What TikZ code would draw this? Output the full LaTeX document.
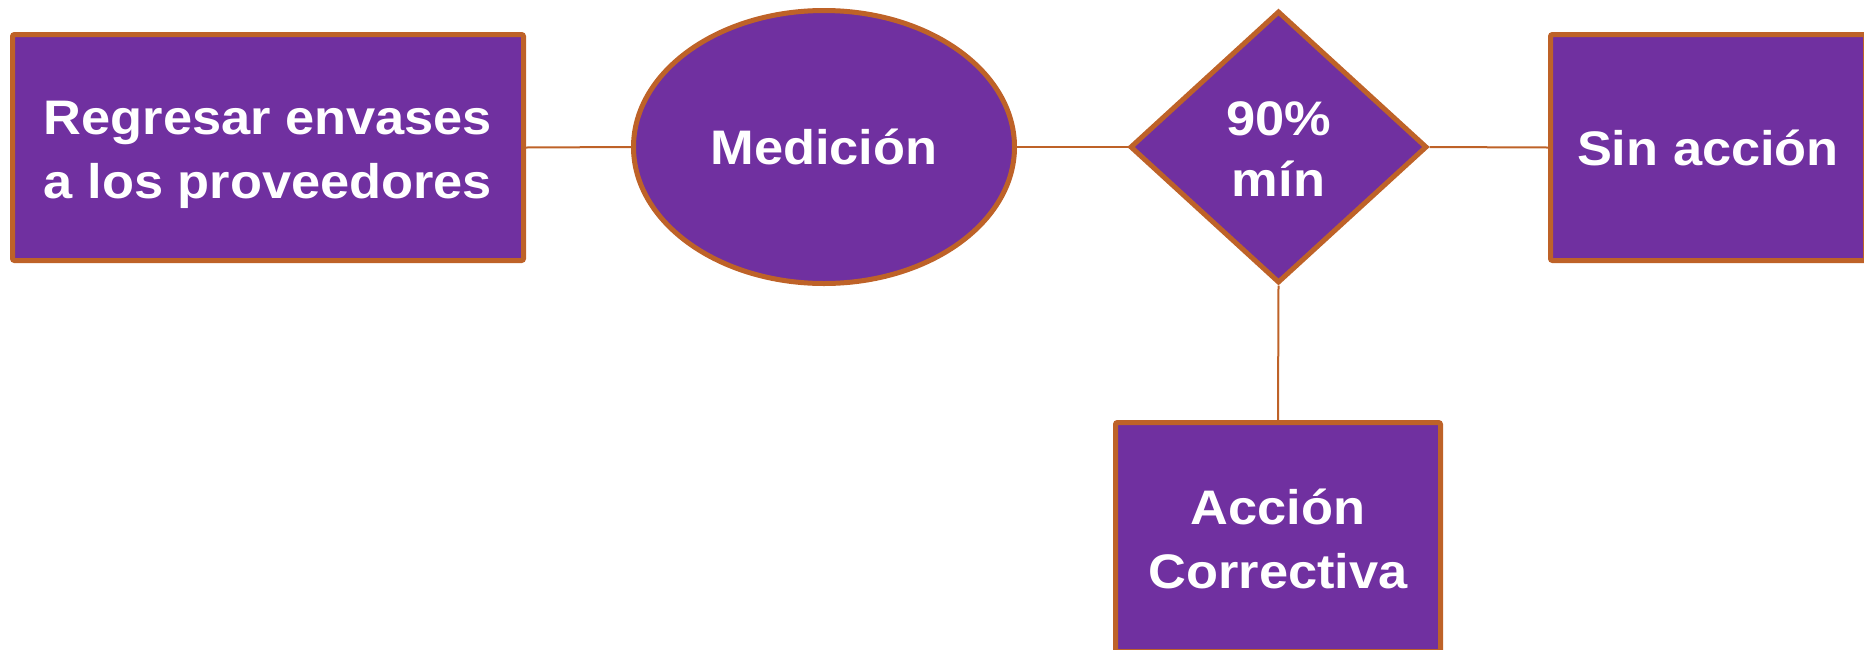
\documentclass[tikz,border=0pt]{standalone}
\usepackage{fontspec}
\setmainfont{Liberation Sans}[FakeStretch=1.08]
\usetikzlibrary{shapes.geometric}
\definecolor{boxfill}{RGB}{112,48,160}
\definecolor{boxline}{RGB}{190,98,40}
\tikzset{
  shapebase/.style={fill=boxfill, draw=boxline, line width=5pt, text=white,
    font=\fontsize{48.5}{64}\selectfont\bfseries, align=center, inner sep=0pt,
    text height=35pt, text depth=0pt},
  twolines/.style={text height=102pt, text depth=0pt},
  rectbox/.style={shapebase, rectangle, rounded corners=2pt},
  ovalbox/.style={shapebase, ellipse},
  decbox/.style={shapebase, diamond},
  link/.style={draw=boxline, line width=2pt}
}
\begin{document}
\begin{tikzpicture}[x=1pt,y=1pt]
\useasboundingbox (0,0) rectangle (1864,-649);
\node[rectbox, twolines, minimum width=511pt, minimum height=226pt] (reg) at (268,-147.5) {Regresar envases\\a los proveedores};
\node[ovalbox, minimum width=381pt, minimum height=273pt] (med) at (824,-147) {Medición};
\node[decbox, twolines, text height=98pt, minimum width=297pt, minimum height=272pt, font=\fontsize{48.5}{61}\selectfont\bfseries] (dec) at (1278.5,-147) {90\%\\mín};
\node[rectbox, minimum width=315pt, minimum height=226pt] (sin) at (1708,-147.5) {Sin acción};
\node[rectbox, twolines, minimum width=325pt, minimum height=229pt] (acc) at (1278,-537) {Acción\\Correctiva};
\draw[link] (reg.east) -- (med.west);
\draw[link] (med.east) -- (dec.west);
\draw[link] (dec.east) -- (sin.west);
\draw[link] (dec.south) -- (acc.north);
\end{tikzpicture}
\end{document}
